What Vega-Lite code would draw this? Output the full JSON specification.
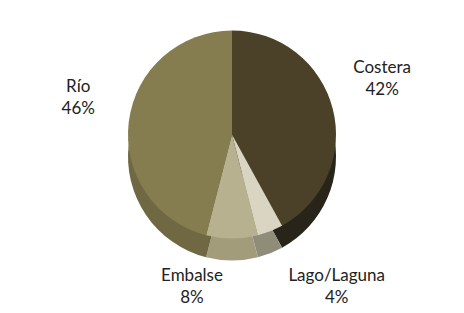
{
  "$schema": "https://vega.github.io/schema/vega-lite/v6.json",
  "width": 464,
  "height": 313,
  "autosize": {"type": "fit", "contains": "padding"},
  "config": {"view": {"stroke": null}},
  "data": {"values": [
    {"cat": "Costera", "pct": 42, "ord": 1},
    {"cat": "Lago/Laguna", "pct": 4, "ord": 2},
    {"cat": "Embalse", "pct": 8, "ord": 3},
    {"cat": "Río", "pct": 46, "ord": 4}
  ]},
  "transform": [
    {"stack": "pct", "groupby": [], "sort": [{"field": "ord", "order": "ascending"}], "as": ["s0", "s1"]},
    {"calculate": "(datum.s0 + datum.s1) / 2", "as": "mid"},
    {"calculate": "datum.cat + '\\n' + datum.pct + '%'", "as": "label"}
  ],
  "layer": [
    {
      "mark": {"type": "arc", "outerRadius": 104, "yOffset": 0},
      "encoding": {
        "theta": {"field": "s0", "type": "quantitative", "scale": {"domain": [0, 100]}},
        "theta2": {"field": "s1"},
        "color": {"field": "cat", "type": "nominal", "legend": null,
        "scale": {"domain": ["Costera", "Lago/Laguna", "Embalse", "Río"], "range": ["#28241a", "#8f8c79", "#a29c7b", "#6f6842"]}}}
    },
    {
      "mark": {"type": "arc", "outerRadius": 104, "yOffset": -22},
      "encoding": {
        "theta": {"field": "s0", "type": "quantitative", "scale": {"domain": [0, 100]}},
        "theta2": {"field": "s1"},
        "color": {"field": "cat", "type": "nominal", "legend": null,
        "scale": {"domain": ["Costera", "Lago/Laguna", "Embalse", "Río"], "range": ["#4a4128", "#d9d5c2", "#b8b18f", "#857d4f"]}}}
    },
    {
      "transform": [{"filter": "datum.cat == 'Costera' || datum.cat == 'Río'"}],
      "mark": {"type": "text", "radius": 155, "yOffset": -50, "lineBreak": "\n", "font": "Lato", "fontSize": 17, "color": "#222", "lineHeight": 22},
      "encoding": {
        "theta": {"field": "mid", "type": "quantitative", "scale": {"domain": [0, 100]}},
        "text": {"field": "label"}}
    },
    {
      "transform": [{"filter": "datum.cat == 'Lago/Laguna'"}],
      "mark": {"type": "text", "radius": 135, "yOffset": -6, "dx": 55, "align": "center", "lineBreak": "\n", "font": "Lato", "fontSize": 17, "color": "#222", "lineHeight": 22},
      "encoding": {
        "theta": {"field": "mid", "type": "quantitative", "scale": {"domain": [0, 100]}},
        "text": {"field": "label"}}
    },
    {
      "transform": [{"filter": "datum.cat == 'Embalse'"}],
      "mark": {"type": "text", "radius": 135, "yOffset": -16, "dx": -40, "align": "center", "lineBreak": "\n", "font": "Lato", "fontSize": 17, "color": "#222", "lineHeight": 22},
      "encoding": {
        "theta": {"field": "mid", "type": "quantitative", "scale": {"domain": [0, 100]}},
        "text": {"field": "label"}}
    }
  ],
  "resolve": {"scale": {"color": "independent"}}
}
